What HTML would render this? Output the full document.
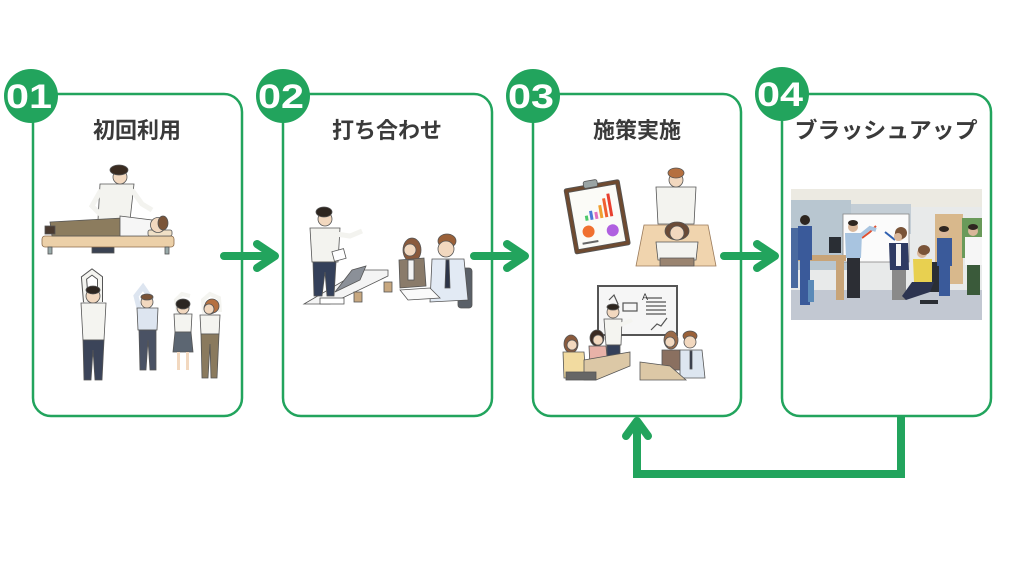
<!DOCTYPE html>
<html><head><meta charset="utf-8"><style>
html,body{margin:0;padding:0;background:#fff;}
svg{display:block;}
.t{font-family:"Liberation Sans","Noto Sans CJK JP",sans-serif;font-weight:700;font-size:22px;fill:#3a3a3a;}
.n{font-family:"Liberation Sans",sans-serif;font-weight:700;font-size:34px;fill:#fff;}
</style></head><body>
<svg width="1024" height="576" viewBox="0 0 1024 576" xmlns="http://www.w3.org/2000/svg">
<defs>
<clipPath id="ph"><rect x="791" y="189" width="191" height="131"/></clipPath>
</defs>
<rect width="1024" height="576" fill="#fff"/>

<!-- cards -->
<g fill="#fff" stroke="#22a45d" stroke-width="2.5">
<rect x="33" y="94" width="209" height="322" rx="18"/>
<rect x="283" y="94" width="209" height="322" rx="18"/>
<rect x="533" y="94" width="208" height="322" rx="18"/>
<rect x="782" y="94" width="209" height="322" rx="18"/>
</g>

<!-- badges -->
<g fill="#22a45d">
<circle cx="31" cy="96" r="27"/>
<circle cx="283" cy="96" r="27"/>
<circle cx="533" cy="96" r="27"/>
<circle cx="782" cy="94" r="27"/>
</g>
<text class="n" x="29" y="108" text-anchor="middle" textLength="46" lengthAdjust="spacingAndGlyphs">01</text>
<text class="n" x="281" y="108" text-anchor="middle" textLength="46" lengthAdjust="spacingAndGlyphs">02</text>
<text class="n" x="531" y="108" text-anchor="middle" textLength="46" lengthAdjust="spacingAndGlyphs">03</text>
<text class="n" x="780" y="106" text-anchor="middle" textLength="46" lengthAdjust="spacingAndGlyphs">04</text>

<!-- titles -->
<text class="t" x="137" y="138" text-anchor="middle">初回利用</text>
<text class="t" x="387" y="138" text-anchor="middle">打ち合わせ</text>
<text class="t" x="637" y="138" text-anchor="middle">施策実施</text>
<text class="t" x="886" y="138" text-anchor="middle" textLength="183" lengthAdjust="spacingAndGlyphs">ブラッシュアップ</text>

<!-- ===== card 1 illustrations ===== -->
<g stroke="#555" stroke-width="0.8">
<!-- therapist -->
<path d="M100 184 L134 184 L130 220 L98 220 Z" fill="#f3f3ef"/>
<path d="M101 190 L92 206 L102 216" fill="none" stroke="#f3f3ef" stroke-width="5"/>
<path d="M132 190 L142 204 L152 210" fill="none" stroke="#f3f3ef" stroke-width="5"/>
<circle cx="120" cy="177" r="7" fill="#f2d8bf"/>
<ellipse cx="119" cy="170" rx="9" ry="5" fill="#3a2b20"/>
<rect x="92" y="245" width="22" height="8" fill="#3a4252"/>
<!-- table -->
<rect x="42" y="236" width="132" height="11" rx="3" fill="#ecd0a8" stroke="#8a6a4a"/>
<rect x="48" y="247" width="4" height="7" fill="#9aa"/>
<rect x="165" y="247" width="4" height="7" fill="#9aa"/>
<!-- lying person -->
<path d="M50 222 L122 218 L124 236 L52 236 Z" fill="#8c7c5e"/>
<rect x="45" y="226" width="10" height="8" fill="#4a3a30"/>
<path d="M120 216 L152 220 L152 236 L120 236 Z" fill="#f6f6f6"/>
<rect x="148" y="230" width="24" height="6" rx="2" fill="#f0e0c6"/>
<circle cx="158" cy="225" r="7.5" fill="#f2d8bf"/>
<ellipse cx="163" cy="223" rx="5" ry="7" fill="#7a5438"/>
</g>
<g stroke="#555" stroke-width="0.8">
<!-- person A -->
<path d="M86 302 L84 278 L92 272 L100 278 L100 302" fill="none" stroke="#555" stroke-width="6"/>
<path d="M86 302 L84 278 L92 272 L100 278 L100 302" fill="none" stroke="#f4f4f0" stroke-width="4"/>
<circle cx="93" cy="296" r="7" fill="#f2d8bf"/>
<ellipse cx="93" cy="290" rx="7" ry="4" fill="#2e2620"/>
<path d="M81 303 L106 303 L104 340 L83 340 Z" fill="#f4f4f0"/>
<path d="M83 340 L104 340 L102 380 L95 380 L93 350 L91 380 L84 380 Z" fill="#3b4459"/>
<!-- person B -->
<path d="M140 312 L136 296 L143 287 L152 300" fill="none" stroke="#dde5f0" stroke-width="5"/>
<circle cx="147" cy="302" r="6" fill="#f2d8bf"/>
<ellipse cx="147" cy="297" rx="6" ry="3" fill="#7a5438"/>
<path d="M137 308 L158 308 L157 330 L138 330 Z" fill="#dde5f0"/>
<path d="M139 330 L156 330 L156 370 L150 370 L148 340 L146 370 L140 370 Z" fill="#4a5264"/>
<!-- person C -->
<path d="M178 314 L176 300 L182 294 L190 296" fill="none" stroke="#f4f4f0" stroke-width="4"/>
<circle cx="183" cy="308" r="6" fill="#f2d8bf"/>
<ellipse cx="183" cy="304" rx="7" ry="5" fill="#2b2622"/>
<path d="M174 314 L192 314 L191 332 L175 332 Z" fill="#f4f4f0"/>
<path d="M175 332 L191 332 L193 352 L173 352 Z" fill="#5c6672"/>
<rect x="177" y="352" width="3" height="18" fill="#f2d8bf" stroke="none"/>
<rect x="186" y="352" width="3" height="18" fill="#f2d8bf" stroke="none"/>
<!-- person D -->
<path d="M204 314 L203 300 L210 294 L219 298 L220 312" fill="none" stroke="#f4f4f0" stroke-width="4"/>
<circle cx="210" cy="308" r="6" fill="#f2d8bf"/>
<ellipse cx="212" cy="306" rx="7" ry="7" fill="#b57040"/>
<circle cx="209" cy="309" r="5" fill="#f2d8bf"/>
<path d="M200 315 L220 315 L219 334 L201 334 Z" fill="#f4f4f0"/>
<path d="M201 334 L219 334 L217 378 L211 378 L210 344 L208 378 L202 378 Z" fill="#8a7a5e"/>
</g>

<!-- ===== card 2 illustrations ===== -->
<g stroke="#555" stroke-width="0.8">
<!-- table -->
<path d="M304 304 L362 270 L388 270 L388 276 L330 304 Z" fill="#f4f4f4"/>
<path d="M335 292 L360 280 L366 266 L352 270 Z" fill="#8b9098"/>
<rect x="320" y="298" width="24" height="6" fill="#fff"/>
<rect x="354" y="292" width="8" height="10" fill="#c8a880"/>
<!-- standing man -->
<path d="M310 228 L340 228 L338 262 L312 262 Z" fill="#f3f3ef"/>
<path d="M336 234 L350 236 L362 231" fill="none" stroke="#f3f3ef" stroke-width="5"/>
<circle cx="325" cy="219" r="7" fill="#f2d8bf"/>
<ellipse cx="324" cy="212" rx="8" ry="5" fill="#2e2620"/>
<path d="M313 262 L336 262 L334 296 L327 296 L325 272 L322 296 L314 296 Z" fill="#34405a"/>
<rect x="333" y="250" width="12" height="10" fill="#fff" transform="rotate(-15 339 255)"/>
<!-- woman -->
<ellipse cx="412" cy="250" rx="9" ry="12" fill="#8a5a3c"/>
<circle cx="410" cy="250" r="6" fill="#f2d8bf"/>
<path d="M399 260 L424 258 L426 286 L400 288 Z" fill="#8a7b6a"/>
<rect x="408" y="260" width="6" height="20" fill="#f4f4f4"/>
<!-- man -->
<rect x="458" y="268" width="14" height="40" rx="3" fill="#5a6068"/>
<ellipse cx="447" cy="241" rx="9" ry="7" fill="#9a6038"/>
<circle cx="446" cy="249" r="8" fill="#f2d8bf"/>
<path d="M432 259 L464 259 L468 300 L430 302 Z" fill="#e2eaf4"/>
<path d="M446 260 L449 260 L450 288 L445 288 Z" fill="#2c3448"/>
<!-- papers / cup -->
<path d="M400 290 L430 288 L440 298 L408 300 Z" fill="#fafafa"/>
<rect x="384" y="282" width="8" height="10" fill="#c8a880"/>
</g>

<!-- ===== card 3 illustrations ===== -->
<g stroke="#555" stroke-width="0.8">
<g transform="rotate(-10 596 216)">
<rect x="569" y="184" width="56" height="66" rx="2" fill="#6e4a30"/>
<rect x="573" y="188" width="48" height="58" fill="#fbfbf7"/>
<rect x="589" y="180" width="14" height="7" rx="2" fill="#9aa4a4"/>
<g stroke="none">
<rect x="585" y="214" width="3" height="5" fill="#4cc86a"/>
<rect x="590" y="210" width="3" height="9" fill="#4a7ad8"/>
<rect x="595" y="212" width="3" height="7" fill="#e070c0"/>
<rect x="600" y="206" width="3" height="13" fill="#f0a030"/>
<rect x="605" y="200" width="3" height="19" fill="#f06030"/>
<rect x="610" y="196" width="3" height="23" fill="#e84030"/>
<circle cx="586" cy="230" r="6" fill="#f07030"/>
<circle cx="610" cy="233" r="6" fill="#b060e0"/>
<rect x="578" y="240" width="16" height="2" fill="#666"/>
</g>
</g>
<!-- therapist -->
<path d="M656 187 L696 187 L694 224 L658 224 Z" fill="#f3f3ef"/>
<circle cx="676" cy="180" r="7" fill="#f2d8bf"/>
<ellipse cx="676" cy="173" rx="8" ry="5" fill="#b57040"/>
<!-- table -->
<path d="M644 225 L708 225 L716 266 L636 266 Z" fill="#f0d4ae" stroke="#9a7a5a"/>
<!-- client -->
<ellipse cx="677" cy="231" rx="12" ry="9" fill="#6a4a36"/>
<circle cx="677" cy="233" r="7" fill="#f2d8bf"/>
<path d="M656 242 L698 242 L696 260 L658 260 Z" fill="#f3f3ef"/>
<path d="M660 258 L694 258 L694 266 L660 266 Z" fill="#9a8470"/>
<!-- whiteboard -->
<rect x="598" y="286" width="79" height="49" fill="#f6f6f6" stroke="#555" stroke-width="2"/>
<g stroke="#555" stroke-width="1.2" fill="none">
<path d="M609 300 L614 295 L618 304 L612 310"/>
<rect x="623" y="303" width="14" height="8"/>
<path d="M646 298 L662 298 M646 302 L666 302 M646 306 L666 306 M646 310 L666 310 M646 314 L666 314"/>
<path d="M651 330 L657 324 L661 326 L667 318"/>
</g>
<text x="642" y="300" font-family="Liberation Sans,sans-serif" font-size="9" fill="#333" stroke="none">A</text>
<!-- presenter -->
<circle cx="613" cy="312" r="6" fill="#f2d8bf"/>
<ellipse cx="613" cy="307" rx="6" ry="3" fill="#2e2620"/>
<path d="M604 319 L622 319 L621 345 L606 345 Z" fill="#f4f4f0"/>
<path d="M620 325 L632 320" stroke="#f4f4f0" stroke-width="4"/>
<rect x="607" y="345" width="13" height="14" fill="#34405a"/>
<!-- left group -->
<ellipse cx="571" cy="344" rx="7" ry="9" fill="#8a5a3c"/>
<circle cx="572" cy="345" r="5" fill="#f2d8bf"/>
<path d="M563 352 L584 352 L586 378 L564 378 Z" fill="#f2dba0"/>
<ellipse cx="597" cy="338" rx="7" ry="8" fill="#3a2a22"/>
<circle cx="598" cy="340" r="5" fill="#f2d8bf"/>
<path d="M589 346 L606 346 L608 368 L590 368 Z" fill="#e8b2a8"/>
<path d="M584 360 L630 352 L630 366 L596 380 L584 380 Z" fill="#dcc8a6"/>
<rect x="566" y="372" width="30" height="8" fill="#666"/>
<!-- right group -->
<ellipse cx="671" cy="340" rx="7" ry="9" fill="#9a6a48"/>
<circle cx="670" cy="342" r="5" fill="#f2d8bf"/>
<path d="M662 350 L680 350 L681 370 L662 370 Z" fill="#8a7060"/>
<ellipse cx="690" cy="336" rx="7" ry="5" fill="#9a6038"/>
<circle cx="690" cy="342" r="6" fill="#f2d8bf"/>
<path d="M680 350 L702 350 L705 378 L680 378 Z" fill="#dde6f0"/>
<rect x="690" y="351" width="2" height="18" fill="#2c3448"/>
<path d="M640 362 L670 366 L686 380 L640 380 Z" fill="#dcc8a6"/>
</g>

<!-- ===== card 4 photo ===== -->
<g clip-path="url(#ph)">
<rect x="791" y="189" width="191" height="131" fill="#e8eaea"/>
<rect x="791" y="189" width="191" height="18" fill="#eceae2"/>
<rect x="791" y="200" width="60" height="70" fill="#b8c6d0"/>
<rect x="851" y="204" width="60" height="30" fill="#c4ced6"/>
<rect x="935" y="214" width="28" height="70" fill="#d8b88c"/>
<rect x="962" y="218" width="20" height="40" fill="#6a9a5a"/>
<rect x="791" y="290" width="191" height="30" fill="#c2c8d2"/>
<!-- whiteboard -->
<rect x="843" y="214" width="66" height="48" fill="#fbfbfb" stroke="#888" stroke-width="0.8"/>
<path d="M862 238 L870 232 L876 226" stroke="#e05030" stroke-width="2" fill="none"/>
<path d="M885 232 L895 240" stroke="#3060b0" stroke-width="2" fill="none"/>
<!-- desk -->
<rect x="791" y="255" width="55" height="6" fill="#c8a478"/>
<rect x="836" y="260" width="8" height="40" fill="#c8a478"/>
<rect x="829" y="237" width="12" height="16" fill="#2a2e34"/>
<!-- left people scrubs -->
<ellipse cx="805" cy="220" rx="5" ry="5" fill="#2e2620"/>
<rect x="798" y="226" width="14" height="34" fill="#3a5a9a"/>
<rect x="800" y="260" width="10" height="45" fill="#3a5a9a"/>
<rect x="791" y="228" width="7" height="60" fill="#4a6aa0"/>
<rect x="808" y="280" width="6" height="22" fill="#5a8ab8"/>
<!-- man high five -->
<circle cx="853" cy="227" r="5" fill="#d9b79a"/>
<ellipse cx="853" cy="223" rx="5" ry="3" fill="#2e2620"/>
<path d="M845 233 L862 233 L861 258 L846 258 Z" fill="#a8c4e0"/>
<path d="M860 236 L870 228 L876 230" stroke="#a8c4e0" stroke-width="4" fill="none"/>
<rect x="847" y="258" width="13" height="40" fill="#2c2e34"/>
<!-- woman navy -->
<circle cx="899" cy="236" r="5" fill="#d9b79a"/>
<ellipse cx="901" cy="233" rx="6" ry="6" fill="#7a5438"/>
<circle cx="898" cy="237" r="4" fill="#d9b79a"/>
<path d="M889 243 L908 243 L909 270 L890 270 Z" fill="#2e3a62"/>
<rect x="896" y="244" width="5" height="22" fill="#f4f4f4"/>
<rect x="892" y="270" width="14" height="30" fill="#8a8a8a"/>
<!-- woman yellow sitting -->
<rect x="928" y="262" width="14" height="30" fill="#2a2e34"/>
<circle cx="922" cy="253" r="5" fill="#d9b79a"/>
<ellipse cx="924" cy="250" rx="6" ry="5" fill="#7a5438"/>
<path d="M913 259 L932 259 L932 282 L914 282 Z" fill="#e8d050"/>
<path d="M912 282 L934 282 L930 292 L906 300 L902 296 Z" fill="#2c3450"/>
<rect x="920" y="300" width="18" height="4" fill="#2a2e34"/>
<!-- scrubs right -->
<circle cx="944" cy="232" r="5" fill="#d9b79a"/>
<ellipse cx="944" cy="229" rx="5" ry="3" fill="#2e2620"/>
<rect x="937" y="238" width="15" height="28" fill="#3a5a9a"/>
<rect x="939" y="266" width="11" height="30" fill="#3a5a9a"/>
<!-- white shirt man -->
<circle cx="973" cy="231" r="5" fill="#d9b79a"/>
<ellipse cx="973" cy="227" rx="5" ry="3" fill="#2e2620"/>
<rect x="965" y="237" width="17" height="28" fill="#f6f6f6"/>
<rect x="967" y="265" width="13" height="30" fill="#3a5a3a"/>
</g>

<!-- arrows -->
<g stroke="#22a45d" stroke-width="8" fill="none" stroke-linecap="round" stroke-linejoin="round">
<path d="M224 256 L274 256 M257 244 L275 256 L257 268" />
<path d="M474 256 L524 256 M507 244 L525 256 L507 268" />
<path d="M724 256 L774 256 M757 244 L775 256 L757 268" />
</g>
<path d="M901 416 L901 474 L637 474 L637 422" stroke="#22a45d" stroke-width="8" fill="none" stroke-linejoin="miter"/>
<path d="M626 436 L637 421 L648 436" stroke="#22a45d" stroke-width="8" fill="none" stroke-linecap="round" stroke-linejoin="round"/>
</svg>
</body></html>
